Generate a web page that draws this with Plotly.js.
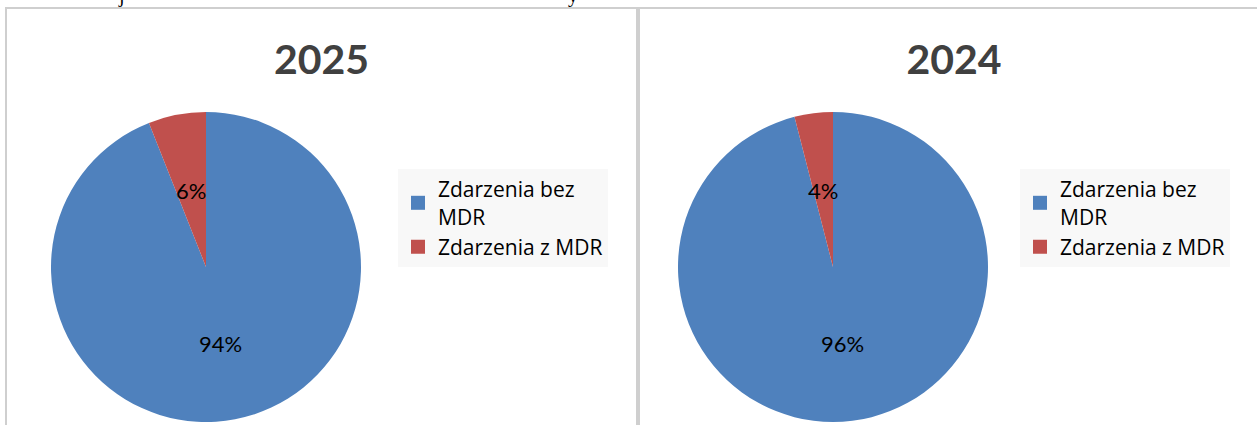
<!DOCTYPE html>
<html>
<head>
<meta charset="utf-8">
<script src="https://cdn.plot.ly/plotly-3.0.1.min.js"></script>
<style>
  html, body { margin: 0; padding: 0; background: #ffffff; overflow: hidden; width: 1257px; height: 425px; }
  .panel { position: absolute; top: 7px; height: 440px; box-sizing: border-box;
           border-top: 2px solid #cfcfcf; border-left: 2px solid #cfcfcf; background: #fff; }
  #p1 { left: 5px; width: 633px; border-right: 2px solid #cfcfcf; }
  #p2 { left: 638px; width: 630px; }
  .frag { position: absolute; top: -16px; font-family: 'Liberation Serif', serif; font-size: 20px; color: #000; }
</style>
</head>
<body>
<div class="frag" style="left:119px;">j</div>
<div class="frag" style="left:568px;">y</div>
<div class="panel" id="p1"><div id="c1"></div></div>
<div class="panel" id="p2"><div id="c2"></div></div>
<script>
const categories = ['Zdarzenia bez<br>MDR', 'Zdarzenia z MDR'];
const values2025 = [94, 6];
const values2024 = [96, 4];
const years = ['2025', '2024'];
const colors = ['#4F81BD', '#C0504D'];

function makeChart(el, values, year, W, cx, legendLeft) {
  const H = 416, cy = 258, r = 155;
  const total = values.reduce((a, b) => a + b, 0);
  const annotations = [];
  let cum = 0;
  values.forEach(v => {
    const theta = 2 * Math.PI * (cum + v / 2) / total;
    cum += v;
    const px = cx + 0.5 * r * Math.sin(theta);
    const py = cy - 0.5 * r * Math.cos(theta);
    annotations.push({
      x: px / W, y: 1 - py / H, xref: 'paper', yref: 'paper',
      xanchor: 'center', yanchor: 'middle', showarrow: false,
      text: Math.round(100 * v / total) + '%',
      font: { family: 'Lato, sans-serif', size: 22, color: '#000000' }
    });
  });
  const trace = {
    type: 'pie',
    labels: categories,
    values: values,
    sort: false,
    direction: 'clockwise',
    rotation: 0,
    marker: { colors: colors, line: { width: 0 } },
    textinfo: 'none',
    hoverinfo: 'none',
    domain: { x: [(cx - r) / W, (cx + r) / W], y: [(H - cy - r) / H, (H - cy + r) / H] }
  };
  const layout = {
    width: W, height: H,
    margin: { l: 0, r: 0, t: 0, b: 0 },
    paper_bgcolor: '#ffffff',
    title: { text: '<b>' + year + '</b>', font: { family: 'Lato, sans-serif', size: 41, color: '#404040' },
             x: 0.5, xref: 'paper', xanchor: 'center', y: 1 - 51 / H, yref: 'container', yanchor: 'middle' },
    showlegend: true,
    legend: { x: legendLeft / W, xanchor: 'left', y: 1 - 160 / H, yanchor: 'top',
              bgcolor: '#f8f8f8', font: { family: 'Open Sans, sans-serif', size: 21, color: '#000000' },
              traceorder: 'normal' },
    annotations: annotations
  };
  return Plotly.newPlot(el, [trace], layout, { staticPlot: true, displayModeBar: false }).then(gd => {
    gd.querySelectorAll('.legendpoints path').forEach(p => p.setAttribute('d', 'M7,7H-7V-7H7Z'));
  });
}

makeChart('c1', values2025, years[0], 629, 199, 391);
makeChart('c2', values2024, years[1], 628, 193, 380);
</script>
</body>
</html>
